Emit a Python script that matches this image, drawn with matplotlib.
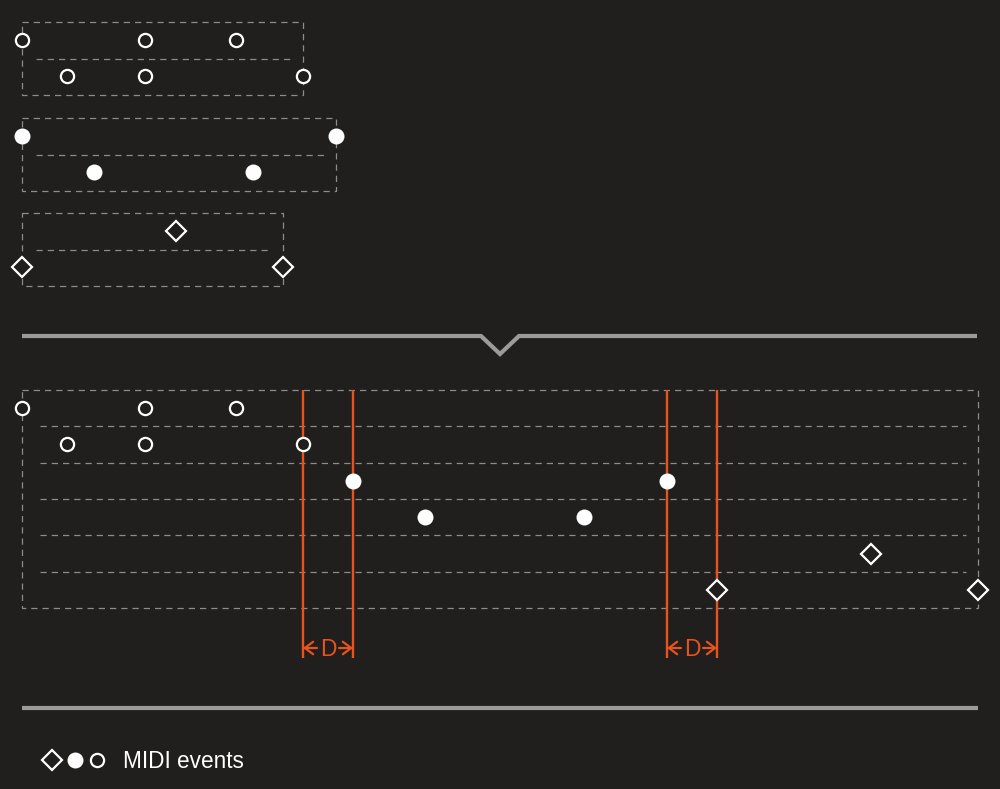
import matplotlib.pyplot as plt
from matplotlib.patches import Rectangle

# event times (px-like units from clip start) and row inside clip
open_times = [0, 123, 214, 45, 123, 281]
open_rows = [0, 0, 0, 1, 1, 1]
filled_times = [0, 314, 72, 231]
filled_rows = [0, 0, 1, 1]
diamond_times = [154, 0, 261]
diamond_rows = [0, 1, 1]

clip_lengths = [281, 314, 261]
gap_d = 50
legend_label = 'MIDI events'

bg = '#201f1e'
grid_c = '#8c8c8c'
sep_c = '#9b9b9b'
orange = '#e8521d'
white = '#ffffff'

fig = plt.figure(figsize=(10, 7.89), dpi=100, facecolor=bg)
ax = fig.add_axes([0, 0, 1, 1])
ax.set_facecolor(bg)
ax.set_xlim(-22, 978)
ax.set_ylim(789, 0)
ax.axis('off')

row_h = 36.4
clips = [(open_times, open_rows, 'o', 'none'),
         (filled_times, filled_rows, 'o', white),
         (diamond_times, diamond_rows, 'D', 'none')]


def draw_marker(x, y, kind, fc):
    if kind == 'D':
        ax.plot(x, y, marker='D', ms=10, mfc=bg, mec=white, mew=1.6, ls='none', zorder=5)
    elif fc == 'none':
        ax.plot(x, y, marker='o', ms=9.5, mfc=bg, mec=white, mew=1.6, ls='none', zorder=5)
    else:
        ax.plot(x, y, marker='o', ms=11.5, mfc=white, mec=white, mew=0, ls='none', zorder=5)


def dashed_box(x0, x1, y0, y1):
    ax.add_patch(Rectangle((x0, y0), x1 - x0, y1 - y0, fill=False, ec=grid_c,
                           lw=0.9, ls=(0, (5, 4)), zorder=1))


# top: individual clips
box_tops = [22, 118, 213]
for (times, rows, kind, fc), length, top in zip(clips, clip_lengths, box_tops):
    dashed_box(0, length, top, top + 73)
    ax.plot([14, length - 11], [top + 36.5, top + 36.5], color=grid_c, lw=0.9,
            ls=(0, (5, 4)), zorder=1)
    for t, r in zip(times, rows):
        draw_marker(t, top + 18 + r * row_h, kind, fc)

# separator with notch
ax.plot([0, 459, 478, 497, 955], [336, 336, 354, 336, 336], color=sep_c, lw=3,
        solid_joinstyle='miter', solid_capstyle='butt', zorder=2)

# bottom: merged track
offsets = [0]
for length in clip_lengths[:-1]:
    offsets.append(offsets[-1] + length + gap_d)
track_top = 390
track_end = offsets[-1] + clip_lengths[-1]
dashed_box(0, track_end, track_top, track_top + 218)
for i in range(1, 6):
    y = track_top + 18 + (i - 0.5) * row_h
    ax.plot([18, track_end - 12], [y, y], color=grid_c, lw=0.9, ls=(0, (5, 4)), zorder=1)

for k, ((times, rows, kind, fc), off) in enumerate(zip(clips, offsets)):
    for t, r in zip(times, rows):
        draw_marker(off + t, track_top + 18 + (2 * k + r) * row_h, kind, fc)

# gap markers
arrow = dict(arrowstyle='->,head_length=0.6,head_width=0.45', color=orange, lw=1.6,
             shrinkA=0, shrinkB=0)
for k in range(1, 3):
    x1 = offsets[k - 1] + clip_lengths[k - 1]
    x2 = offsets[k]
    for x in (x1, x2):
        ax.plot([x, x], [track_top, 658], color=orange, lw=1.7, solid_capstyle='butt', zorder=3)
    xm = (x1 + x2) / 2
    ax.annotate('', xy=(x1, 648), xytext=(xm - 11, 648), arrowprops=arrow)
    ax.annotate('', xy=(x2, 648), xytext=(xm + 11, 648), arrowprops=arrow)
    ax.text(xm, 649, 'D', color=orange, fontsize=16.5, ha='center', va='center',
            family='Liberation Sans')

ax.plot([0, track_end], [708, 708], color=sep_c, lw=3, solid_capstyle='butt', zorder=2)

# legend
ax.plot(30, 760, marker='D', ms=10, mfc='none', mec=white, mew=1.6, ls='none')
ax.plot(53, 760, marker='o', ms=11.5, mfc=white, mec=white, mew=0, ls='none')
ax.plot(75, 760, marker='o', ms=9.5, mfc=bg, mec=white, mew=1.6, ls='none')
ax.text(101, 761, legend_label, color=white, fontsize=16.3, ha='left', va='center',
        family='Liberation Sans')

fig.savefig('out.png', dpi=100, facecolor=bg)
